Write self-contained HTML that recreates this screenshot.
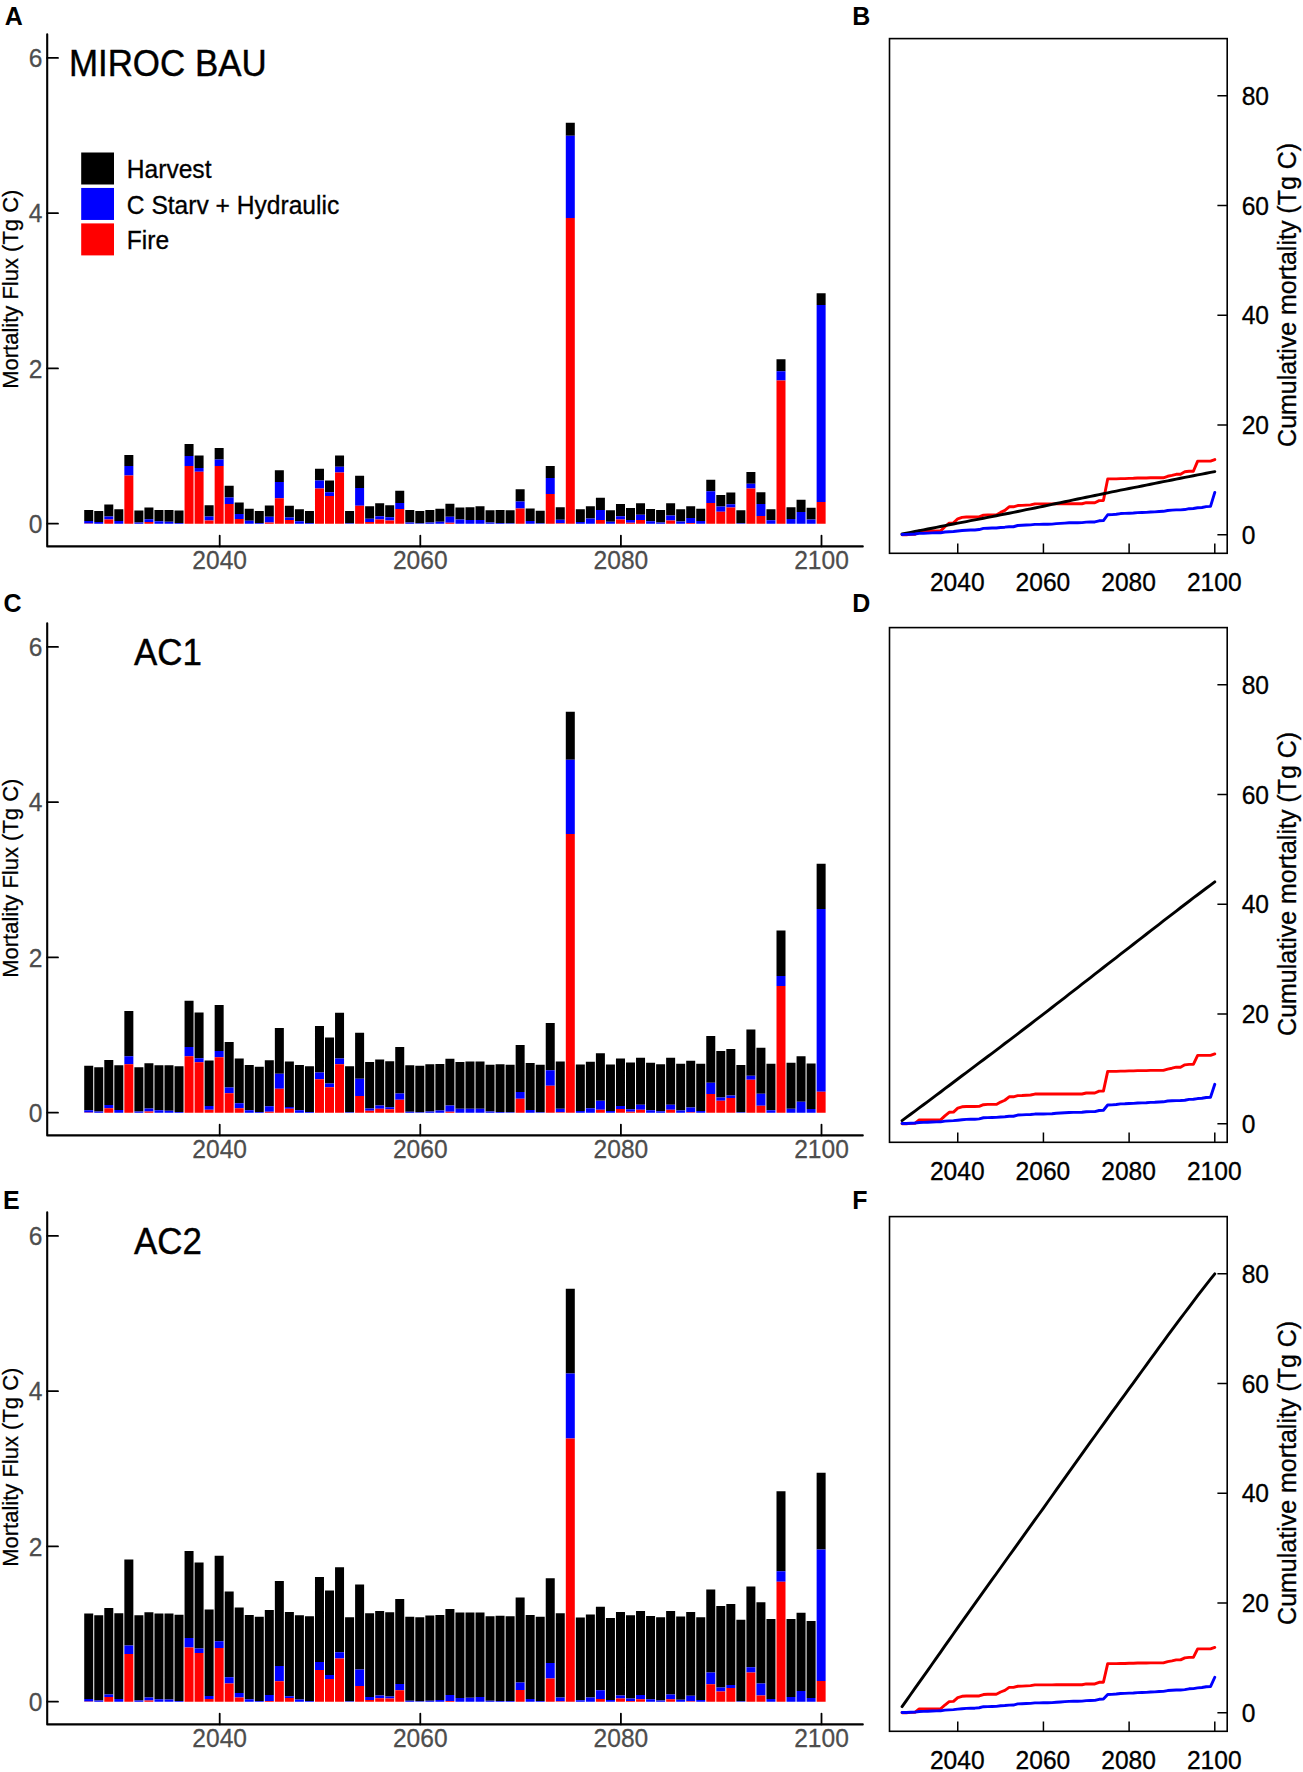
<!DOCTYPE html>
<html lang="en"><head><meta charset="utf-8"><title>Mortality flux and cumulative mortality</title>
<style>html,body{margin:0;padding:0;background:#fff}svg{display:block}</style></head>
<body>
<svg width="1303" height="1772" viewBox="0 0 1303 1772" font-family='"Liberation Sans", Arial, Helvetica, sans-serif'>
<rect width="1303" height="1772" fill="#fff"/>
<g transform="translate(0,0)">
<path fill="#000" d="M84.22 510.01h9.0V521.02h-9.0zM94.25 511.1h9.0V522.12h-9.0zM104.29 504.56h9.0V516.5h-9.0zM114.32 509.23h9.0V521.06h-9.0zM124.35 455.09h9.0V466h-9.0zM134.39 510.62h9.0V522.56h-9.0zM144.42 507.53h9.0V519.26h-9.0zM154.45 510.02h9.0V521.24h-9.0zM164.49 509.95h9.0V521.68h-9.0zM174.52 510.55h9.0V523h-9.0zM184.55 444.06h9.0V456.1h-9.0zM194.58 455.57h9.0V468.02h-9.0zM204.62 505.22h9.0V516.44h-9.0zM214.65 447.98h9.0V459.4h-9.0zM224.68 485.86h9.0V497.39h-9.0zM234.72 502.43h9.0V514.06h-9.0zM244.75 508.86h9.0V520.8h-9.0zM254.78 510.96h9.0V523h-9.0zM264.81 505.46h9.0V516.68h-9.0zM274.85 470.27h9.0V482h-9.0zM284.88 505.81h9.0V517.44h-9.0zM294.91 509.2h9.0V521.24h-9.0zM304.95 510.96h9.0V523h-9.0zM314.98 468.77h9.0V480.5h-9.0zM325.01 480.47h9.0V492.3h-9.0zM335.05 455.46h9.0V466.78h-9.0zM345.08 510.92h9.0V523.26h-9.0zM355.11 475.76h9.0V488h-9.0zM365.14 506.27h9.0V518.82h-9.0zM375.18 503.26h9.0V516.32h-9.0zM385.21 505.28h9.0V517.32h-9.0zM395.24 490.78h9.0V502.92h-9.0zM405.28 510.01h9.0V522.56h-9.0zM415.31 510.92h9.0V523.26h-9.0zM425.34 510.01h9.0V522.56h-9.0zM435.38 508.72h9.0V521.68h-9.0zM445.41 503.66h9.0V516.72h-9.0zM455.44 507.44h9.0V519.48h-9.0zM465.48 507.37h9.0V519.92h-9.0zM475.51 506.35h9.0V519.92h-9.0zM485.54 510.32h9.0V522.56h-9.0zM495.57 509.94h9.0V523h-9.0zM505.61 510.22h9.0V523.17h-9.0zM515.64 489.21h9.0V501.45h-9.0zM525.67 508.51h9.0V521.06h-9.0zM535.71 510.73h9.0V523.17h-9.0zM545.74 465.96h9.0V478h-9.0zM555.77 507.31h9.0V519.86h-9.0zM565.8 122.75h9.0V135.7h-9.0zM575.84 509.37h9.0V522.12h-9.0zM585.87 506.18h9.0V518.42h-9.0zM595.9 497.76h9.0V510.1h-9.0zM605.94 510.15h9.0V521.68h-9.0zM615.97 504.11h9.0V516.14h-9.0zM626 508.02h9.0V520.06h-9.0zM636.04 503.22h9.0V514.64h-9.0zM646.07 509h9.0V521.24h-9.0zM656.1 510.01h9.0V522.56h-9.0zM666.13 503.14h9.0V515.38h-9.0zM676.17 509.17h9.0V521.41h-9.0zM686.2 506.15h9.0V518.08h-9.0zM696.23 508.82h9.0V521.06h-9.0zM706.27 479.77h9.0V491.3h-9.0zM716.3 494.97h9.0V506.6h-9.0zM726.33 492.39h9.0V504.32h-9.0zM736.37 510.2h9.0V523.26h-9.0zM746.4 471.9h9.0V483.84h-9.0zM756.43 492.27h9.0V503.9h-9.0zM766.46 509.14h9.0V520.36h-9.0zM776.5 359.27h9.0V371.2h-9.0zM786.53 507.31h9.0V519.04h-9.0zM796.56 499.76h9.0V511.9h-9.0zM806.6 507.75h9.0V519.48h-9.0zM816.63 293.17h9.0V304.9h-9.0z"/>
<path fill="#0000ff" d="M84.22 521.02h9.0V523.4h-9.0zM94.25 522.12h9.0V523.7h-9.0zM104.29 516.5h9.0V519.4h-9.0zM114.32 521.06h9.0V523.7h-9.0zM124.35 466h9.0V475.5h-9.0zM134.39 522.56h9.0V523.7h-9.0zM144.42 519.26h9.0V521.9h-9.0zM154.45 521.24h9.0V523.7h-9.0zM164.49 521.68h9.0V523.7h-9.0zM174.52 523h9.0V523.7h-9.0zM184.55 456.1h9.0V466h-9.0zM194.58 468.02h9.0V471.8h-9.0zM204.62 516.44h9.0V520.4h-9.0zM214.65 459.4h9.0V466h-9.0zM224.68 497.39h9.0V503.9h-9.0zM234.72 514.06h9.0V518.9h-9.0zM244.75 520.8h9.0V523.7h-9.0zM254.78 523h9.0V523.7h-9.0zM264.81 516.68h9.0V522.4h-9.0zM274.85 482h9.0V498.2h-9.0zM284.88 517.44h9.0V519.9h-9.0zM294.91 521.24h9.0V523.7h-9.0zM304.95 523h9.0V523.7h-9.0zM314.98 480.5h9.0V488.5h-9.0zM325.01 492.3h9.0V496h-9.0zM335.05 466.78h9.0V472.5h-9.0zM345.08 523.26h9.0V523.7h-9.0zM355.11 488h9.0V505.7h-9.0zM365.14 518.82h9.0V521.9h-9.0zM375.18 516.32h9.0V519.4h-9.0zM385.21 517.32h9.0V520.4h-9.0zM395.24 502.92h9.0V508.9h-9.0zM405.28 522.56h9.0V523.7h-9.0zM415.31 523.26h9.0V523.7h-9.0zM425.34 522.56h9.0V523.7h-9.0zM435.38 521.68h9.0V523.7h-9.0zM445.41 516.72h9.0V522.7h-9.0zM455.44 519.48h9.0V523.7h-9.0zM465.48 519.92h9.0V523.7h-9.0zM475.51 519.92h9.0V523.7h-9.0zM485.54 522.56h9.0V523.7h-9.0zM495.57 523h9.0V523.7h-9.0zM505.61 523.17h9.0V523.7h-9.0zM515.64 501.45h9.0V508.4h-9.0zM525.67 521.06h9.0V523.7h-9.0zM535.71 523.17h9.0V523.7h-9.0zM545.74 478h9.0V494h-9.0zM555.77 519.86h9.0V523.2h-9.0zM565.8 135.7h9.0V217.9h-9.0zM575.84 522.12h9.0V523.7h-9.0zM585.87 518.42h9.0V523.7h-9.0zM595.9 510.1h9.0V520.1h-9.0zM605.94 521.68h9.0V523.7h-9.0zM615.97 516.14h9.0V519.4h-9.0zM626 520.06h9.0V522.7h-9.0zM636.04 514.64h9.0V520.1h-9.0zM646.07 521.24h9.0V523.7h-9.0zM656.1 522.56h9.0V523.7h-9.0zM666.13 515.38h9.0V520.4h-9.0zM676.17 521.41h9.0V523.7h-9.0zM686.2 518.08h9.0V523.1h-9.0zM696.23 521.06h9.0V523.7h-9.0zM706.27 491.3h9.0V502.9h-9.0zM716.3 506.6h9.0V511.7h-9.0zM726.33 504.32h9.0V507.4h-9.0zM736.37 523.26h9.0V523.7h-9.0zM746.4 483.84h9.0V488.5h-9.0zM756.43 503.9h9.0V516.1h-9.0zM766.46 520.36h9.0V523.7h-9.0zM776.5 371.2h9.0V380.4h-9.0zM786.53 519.04h9.0V523.7h-9.0zM796.56 511.9h9.0V523.7h-9.0zM806.6 519.48h9.0V523.7h-9.0zM816.63 304.9h9.0V502h-9.0z"/>
<path fill="#ff0000" d="M84.22 523.4h9.0V523.7h-9.0zM104.29 519.4h9.0V523.7h-9.0zM124.35 475.5h9.0V523.7h-9.0zM144.42 521.9h9.0V523.7h-9.0zM184.55 466h9.0V523.7h-9.0zM194.58 471.8h9.0V523.7h-9.0zM204.62 520.4h9.0V523.7h-9.0zM214.65 466h9.0V523.7h-9.0zM224.68 503.9h9.0V523.7h-9.0zM234.72 518.9h9.0V523.7h-9.0zM264.81 522.4h9.0V523.7h-9.0zM274.85 498.2h9.0V523.7h-9.0zM284.88 519.9h9.0V523.7h-9.0zM314.98 488.5h9.0V523.7h-9.0zM325.01 496h9.0V523.7h-9.0zM335.05 472.5h9.0V523.7h-9.0zM355.11 505.7h9.0V523.7h-9.0zM365.14 521.9h9.0V523.7h-9.0zM375.18 519.4h9.0V523.7h-9.0zM385.21 520.4h9.0V523.7h-9.0zM395.24 508.9h9.0V523.7h-9.0zM445.41 522.7h9.0V523.7h-9.0zM515.64 508.4h9.0V523.7h-9.0zM545.74 494h9.0V523.7h-9.0zM555.77 523.2h9.0V523.7h-9.0zM565.8 217.9h9.0V523.7h-9.0zM595.9 520.1h9.0V523.7h-9.0zM615.97 519.4h9.0V523.7h-9.0zM626 522.7h9.0V523.7h-9.0zM636.04 520.1h9.0V523.7h-9.0zM666.13 520.4h9.0V523.7h-9.0zM686.2 523.1h9.0V523.7h-9.0zM706.27 502.9h9.0V523.7h-9.0zM716.3 511.7h9.0V523.7h-9.0zM726.33 507.4h9.0V523.7h-9.0zM746.4 488.5h9.0V523.7h-9.0zM756.43 516.1h9.0V523.7h-9.0zM776.5 380.4h9.0V523.7h-9.0zM816.63 502h9.0V523.7h-9.0z"/>
<path d="M47.2 34.3V546.4H862.8" fill="none" stroke="#000" stroke-width="2.1" stroke-linejoin="round" stroke-linecap="round"/>
<path d="M47.2 523.7h10.8M47.2 368.44h10.8M47.2 213.18h10.8M47.2 57.92h10.8M219.7 546.4v-10.8M420.3 546.4v-10.8M620.9 546.4v-10.8M821.5 546.4v-10.8" fill="none" stroke="#000" stroke-width="1.8" stroke-linecap="round"/>
<text transform="translate(42.5,532.9) scale(1,1.045)" font-size="24.6" fill="#4d4d4d" text-anchor="end" stroke="#4d4d4d" stroke-width="0.25">0</text>
<text transform="translate(42.5,377.64) scale(1,1.045)" font-size="24.6" fill="#4d4d4d" text-anchor="end" stroke="#4d4d4d" stroke-width="0.25">2</text>
<text transform="translate(42.5,222.38) scale(1,1.045)" font-size="24.6" fill="#4d4d4d" text-anchor="end" stroke="#4d4d4d" stroke-width="0.25">4</text>
<text transform="translate(42.5,67.12) scale(1,1.045)" font-size="24.6" fill="#4d4d4d" text-anchor="end" stroke="#4d4d4d" stroke-width="0.25">6</text>
<text transform="translate(219.7,569.4) scale(1,1.045)" font-size="24.6" fill="#4d4d4d" text-anchor="middle" stroke="#4d4d4d" stroke-width="0.25">2040</text>
<text transform="translate(420.3,569.4) scale(1,1.045)" font-size="24.6" fill="#4d4d4d" text-anchor="middle" stroke="#4d4d4d" stroke-width="0.25">2060</text>
<text transform="translate(620.9,569.4) scale(1,1.045)" font-size="24.6" fill="#4d4d4d" text-anchor="middle" stroke="#4d4d4d" stroke-width="0.25">2080</text>
<text transform="translate(821.5,569.4) scale(1,1.045)" font-size="24.6" fill="#4d4d4d" text-anchor="middle" stroke="#4d4d4d" stroke-width="0.25">2100</text>
<text transform="translate(18.4,289.2) rotate(-90) scale(1,1.045)" font-size="22" fill="#000" text-anchor="middle" stroke="#000" stroke-width="0.25">Mortality Flux (Tg C)</text>
<text transform="translate(68.9,75.6) scale(1,1.045)" font-size="34.9" fill="#000" stroke="#000" stroke-width="0.4">MIROC BAU</text>
<rect x="81.2" y="152.5" width="32.8" height="32" fill="#000"/>
<text transform="translate(126.8,178.4) scale(1,1.045)" font-size="24.6" fill="#000" stroke="#000" stroke-width="0.3">Harvest</text>
<rect x="81.2" y="187.95" width="32.8" height="32" fill="#0000ff"/>
<text transform="translate(126.8,213.7) scale(1,1.045)" font-size="24.6" fill="#000" stroke="#000" stroke-width="0.3">C Starv + Hydraulic</text>
<rect x="81.2" y="223.4" width="32.8" height="32" fill="#ff0000"/>
<text transform="translate(126.8,249) scale(1,1.045)" font-size="24.6" fill="#000" stroke="#000" stroke-width="0.3">Fire</text>
</g>
<g transform="translate(0,0)">
<polyline points="902.06,534.68 906.34,534.68 910.63,534.37 914.91,534.37 919.19,530.97 923.48,530.97 927.76,530.84 932.05,530.84 936.33,530.84 940.61,530.84 944.9,526.76 949.18,523.09 953.47,522.86 957.75,518.78 962.03,517.38 966.32,517.04 970.6,517.04 974.89,517.04 979.17,516.95 983.45,515.15 987.74,514.88 992.02,514.88 996.31,514.88 1000.59,512.39 1004.87,510.43 1009.16,506.81 1013.44,506.81 1017.73,505.54 1022.01,505.41 1026.29,505.11 1030.58,504.87 1034.86,503.83 1039.15,503.83 1043.43,503.83 1047.71,503.83 1052,503.83 1056.28,503.76 1060.57,503.76 1064.85,503.76 1069.13,503.76 1073.42,503.76 1077.7,503.76 1081.99,503.76 1086.27,502.68 1090.55,502.68 1094.84,502.68 1099.12,500.58 1103.41,500.54 1107.69,478.92 1111.97,478.92 1116.26,478.92 1120.54,478.67 1124.83,478.67 1129.11,478.36 1133.39,478.29 1137.68,478.04 1141.96,478.04 1146.25,478.04 1150.53,477.81 1154.81,477.81 1159.1,477.76 1163.38,477.76 1167.67,476.29 1171.95,475.44 1176.23,474.29 1180.52,474.29 1184.8,471.8 1189.09,471.27 1193.37,471.27 1197.65,461.14 1201.94,461.14 1206.22,461.14 1210.51,461.14 1214.79,459.6" fill="none" stroke="#ff0000" stroke-width="2.9" stroke-linejoin="round" stroke-linecap="round"/>
<polyline points="902.06,533.92 906.34,533.14 910.63,532.3 914.91,531.46 919.19,530.69 923.48,529.85 927.76,529.02 932.05,528.22 936.33,527.4 940.61,526.52 944.9,525.66 949.18,524.79 953.47,523.99 957.75,523.18 962.03,522.37 966.32,521.55 970.6,520.7 974.89,519.85 979.17,519.06 983.45,518.23 987.74,517.41 992.02,516.56 996.31,515.71 1000.59,514.88 1004.87,514.04 1009.16,513.24 1013.44,512.37 1017.73,511.5 1022.01,510.62 1026.29,509.69 1030.58,508.84 1034.86,507.98 1039.15,507.1 1043.43,506.22 1047.71,505.34 1052,504.42 1056.28,503.5 1060.57,502.65 1064.85,501.76 1069.13,500.8 1073.42,499.94 1077.7,499.01 1081.99,498.1 1086.27,497.23 1090.55,496.35 1094.84,495.47 1099.12,494.62 1103.41,493.73 1107.69,492.81 1111.97,491.91 1116.26,491.05 1120.54,490.17 1124.83,489.36 1129.11,488.51 1133.39,487.66 1137.68,486.85 1141.96,485.98 1146.25,485.1 1150.53,484.23 1154.81,483.37 1159.1,482.52 1163.38,481.66 1167.67,480.84 1171.95,480.02 1176.23,479.18 1180.52,478.25 1184.8,477.41 1189.09,476.59 1193.37,475.79 1197.65,474.95 1201.94,474.12 1206.22,473.26 1210.51,472.43 1214.79,471.61" fill="none" stroke="#000" stroke-width="2.9" stroke-linejoin="round" stroke-linecap="round"/>
<polyline points="902.06,534.53 906.34,534.42 910.63,534.21 914.91,534.03 919.19,533.36 923.48,533.28 927.76,533.09 932.05,532.91 936.33,532.77 940.61,532.72 944.9,532.02 949.18,531.75 953.47,531.47 957.75,531.01 962.03,530.55 966.32,530.21 970.6,530 974.89,529.95 979.17,529.55 983.45,528.4 987.74,528.23 992.02,528.05 996.31,528 1000.59,527.44 1004.87,527.18 1009.16,526.77 1013.44,526.74 1017.73,525.49 1022.01,525.27 1026.29,525.05 1030.58,524.84 1034.86,524.41 1039.15,524.33 1043.43,524.3 1047.71,524.22 1052,524.08 1056.28,523.65 1060.57,523.36 1064.85,523.09 1069.13,522.82 1073.42,522.74 1077.7,522.69 1081.99,522.65 1086.27,522.16 1090.55,521.97 1094.84,521.94 1099.12,520.81 1103.41,520.57 1107.69,514.76 1111.97,514.65 1116.26,514.27 1120.54,513.57 1124.83,513.42 1129.11,513.19 1133.39,513.01 1137.68,512.62 1141.96,512.45 1146.25,512.37 1150.53,512.01 1154.81,511.85 1159.1,511.49 1163.38,511.31 1167.67,510.49 1171.95,510.13 1176.23,509.91 1180.52,509.88 1184.8,509.55 1189.09,508.69 1193.37,508.45 1197.65,507.8 1201.94,507.47 1206.22,506.64 1210.51,506.34 1214.79,492.4" fill="none" stroke="#0000ff" stroke-width="2.9" stroke-linejoin="round" stroke-linecap="round"/>
<rect x="889.5" y="38.6" width="337.7" height="514.7" fill="none" stroke="#000" stroke-width="1.6"/>
<path d="M1227.2 534.7h-9.8M1227.2 424.94h-9.8M1227.2 315.18h-9.8M1227.2 205.42h-9.8M1227.2 95.66h-9.8M957.75 553.3v-9.8M1043.43 553.3v-9.8M1129.11 553.3v-9.8M1214.79 553.3v-9.8" fill="none" stroke="#000" stroke-width="1.5"/>
<text transform="translate(1241.7,543.9) scale(1,1.045)" font-size="24.6" fill="#000" stroke="#000" stroke-width="0.3">0</text>
<text transform="translate(1241.7,434.14) scale(1,1.045)" font-size="24.6" fill="#000" stroke="#000" stroke-width="0.3">20</text>
<text transform="translate(1241.7,324.38) scale(1,1.045)" font-size="24.6" fill="#000" stroke="#000" stroke-width="0.3">40</text>
<text transform="translate(1241.7,214.62) scale(1,1.045)" font-size="24.6" fill="#000" stroke="#000" stroke-width="0.3">60</text>
<text transform="translate(1241.7,104.86) scale(1,1.045)" font-size="24.6" fill="#000" stroke="#000" stroke-width="0.3">80</text>
<text transform="translate(957.25,591.3) scale(1,1.045)" font-size="24.6" fill="#000" text-anchor="middle" stroke="#000" stroke-width="0.3">2040</text>
<text transform="translate(1042.93,591.3) scale(1,1.045)" font-size="24.6" fill="#000" text-anchor="middle" stroke="#000" stroke-width="0.3">2060</text>
<text transform="translate(1128.61,591.3) scale(1,1.045)" font-size="24.6" fill="#000" text-anchor="middle" stroke="#000" stroke-width="0.3">2080</text>
<text transform="translate(1214.29,591.3) scale(1,1.045)" font-size="24.6" fill="#000" text-anchor="middle" stroke="#000" stroke-width="0.3">2100</text>
<text transform="translate(1295.8,294.9) rotate(-90) scale(1,1.045)" font-size="25" fill="#000" text-anchor="middle" stroke="#000" stroke-width="0.3">Cumulative mortality (Tg C)</text>
</g>
<g transform="translate(0,589)">
<path fill="#000" d="M84.22 476.87h9.0V521.15h-9.0zM94.25 478.35h9.0V522.53h-9.0zM104.29 470.98h9.0V516.06h-9.0zM114.32 476.32h9.0V521h-9.0zM124.35 422.12h9.0V467.2h-9.0zM134.39 478.15h9.0V522.53h-9.0zM144.42 474.35h9.0V519.43h-9.0zM154.45 476.28h9.0V521.36h-9.0zM164.49 476.25h9.0V521.63h-9.0zM174.52 477.3h9.0V522.98h-9.0zM184.55 411.82h9.0V457.9h-9.0zM194.58 423.56h9.0V469.24h-9.0zM204.62 471.62h9.0V517.1h-9.0zM214.65 415.9h9.0V462.08h-9.0zM224.68 452.97h9.0V498.45h-9.0zM234.72 469.58h9.0V514.26h-9.0zM244.75 475.88h9.0V521.36h-9.0zM254.78 477.7h9.0V522.98h-9.0zM264.81 471.22h9.0V517.3h-9.0zM274.85 439.12h9.0V484.8h-9.0zM284.88 472.42h9.0V517.9h-9.0zM294.91 475.88h9.0V521.36h-9.0zM304.95 477.3h9.0V522.98h-9.0zM314.98 437.05h9.0V483.54h-9.0zM325.01 448.52h9.0V494.6h-9.0zM335.05 423.76h9.0V469.44h-9.0zM345.08 477.27h9.0V523.25h-9.0zM355.11 443.72h9.0V489.8h-9.0zM365.14 473.05h9.0V519.54h-9.0zM375.18 470.38h9.0V516.46h-9.0zM385.21 472.24h9.0V518.32h-9.0zM395.24 458.02h9.0V504.4h-9.0zM405.28 476.31h9.0V522.8h-9.0zM415.31 476.87h9.0V523.25h-9.0zM425.34 475.33h9.0V522.62h-9.0zM435.38 475.05h9.0V521.54h-9.0zM445.41 469.71h9.0V516.4h-9.0zM455.44 473.05h9.0V519.74h-9.0zM465.48 472.45h9.0V519.74h-9.0zM475.51 472.45h9.0V519.74h-9.0zM485.54 475.73h9.0V522.62h-9.0zM495.57 475.29h9.0V522.98h-9.0zM505.61 475.67h9.0V523.16h-9.0zM515.64 456.06h9.0V502.95h-9.0zM525.67 473.91h9.0V521h-9.0zM535.71 475.67h9.0V523.16h-9.0zM545.74 434.11h9.0V481.2h-9.0zM555.77 472.4h9.0V519.69h-9.0zM565.8 122.81h9.0V170.7h-9.0zM575.84 475.41h9.0V521.9h-9.0zM585.87 472.71h9.0V519.2h-9.0zM595.9 464.21h9.0V511.7h-9.0zM605.94 475.41h9.0V521.9h-9.0zM615.97 469.55h9.0V517.04h-9.0zM626 473.47h9.0V520.36h-9.0zM636.04 468.75h9.0V515.84h-9.0zM646.07 473.87h9.0V521.36h-9.0zM656.1 475.37h9.0V522.26h-9.0zM666.13 468.77h9.0V515.66h-9.0zM676.17 474.85h9.0V521.54h-9.0zM686.2 471.72h9.0V518.61h-9.0zM696.23 474.81h9.0V521.9h-9.0zM706.27 447.11h9.0V493.8h-9.0zM716.3 461.97h9.0V508.46h-9.0zM726.33 460.02h9.0V506.4h-9.0zM736.37 476.06h9.0V523.25h-9.0zM746.4 440.58h9.0V486.66h-9.0zM756.43 458.72h9.0V504.7h-9.0zM766.46 474.87h9.0V521.36h-9.0zM776.5 341.62h9.0V387.1h-9.0zM786.53 473.66h9.0V519.74h-9.0zM796.56 467.22h9.0V512.7h-9.0zM806.6 474.42h9.0V520.1h-9.0zM816.63 274.82h9.0V319.9h-9.0z"/>
<path fill="#0000ff" d="M84.22 521.15h9.0V523.4h-9.0zM94.25 522.53h9.0V523.7h-9.0zM104.29 516.06h9.0V519.3h-9.0zM114.32 521h9.0V523.7h-9.0zM124.35 467.2h9.0V475.2h-9.0zM134.39 522.53h9.0V523.7h-9.0zM144.42 519.43h9.0V522.4h-9.0zM154.45 521.36h9.0V523.7h-9.0zM164.49 521.63h9.0V523.7h-9.0zM174.52 522.98h9.0V523.7h-9.0zM184.55 457.9h9.0V467.2h-9.0zM194.58 469.24h9.0V473.2h-9.0zM204.62 517.1h9.0V520.7h-9.0zM214.65 462.08h9.0V468.2h-9.0zM224.68 498.45h9.0V504.3h-9.0zM234.72 514.26h9.0V519.3h-9.0zM244.75 521.36h9.0V523.7h-9.0zM254.78 522.98h9.0V523.7h-9.0zM264.81 517.3h9.0V522.7h-9.0zM274.85 484.8h9.0V499.8h-9.0zM284.88 517.9h9.0V519.7h-9.0zM294.91 521.36h9.0V523.7h-9.0zM304.95 522.98h9.0V523.7h-9.0zM314.98 483.54h9.0V490.2h-9.0zM325.01 494.6h9.0V498.2h-9.0zM335.05 469.44h9.0V475.2h-9.0zM345.08 523.25h9.0V523.7h-9.0zM355.11 489.8h9.0V507.1h-9.0zM365.14 519.54h9.0V521.7h-9.0zM375.18 516.46h9.0V519.7h-9.0zM385.21 518.32h9.0V520.3h-9.0zM395.24 504.4h9.0V510.7h-9.0zM405.28 522.8h9.0V523.7h-9.0zM415.31 523.25h9.0V523.7h-9.0zM425.34 522.62h9.0V523.7h-9.0zM435.38 521.54h9.0V523.7h-9.0zM445.41 516.4h9.0V522.7h-9.0zM455.44 519.74h9.0V523.7h-9.0zM465.48 519.74h9.0V523.7h-9.0zM475.51 519.74h9.0V523.7h-9.0zM485.54 522.62h9.0V523.7h-9.0zM495.57 522.98h9.0V523.7h-9.0zM505.61 523.16h9.0V523.7h-9.0zM515.64 502.95h9.0V509.7h-9.0zM525.67 521h9.0V523.7h-9.0zM535.71 523.16h9.0V523.7h-9.0zM545.74 481.2h9.0V496.8h-9.0zM555.77 519.69h9.0V523.2h-9.0zM565.8 170.7h9.0V245.1h-9.0zM575.84 521.9h9.0V523.7h-9.0zM585.87 519.2h9.0V523.7h-9.0zM595.9 511.7h9.0V520.7h-9.0zM605.94 521.9h9.0V523.7h-9.0zM615.97 517.04h9.0V520.1h-9.0zM626 520.36h9.0V522.7h-9.0zM636.04 515.84h9.0V520.7h-9.0zM646.07 521.36h9.0V523.7h-9.0zM656.1 522.26h9.0V523.7h-9.0zM666.13 515.66h9.0V520.7h-9.0zM676.17 521.54h9.0V523.7h-9.0zM686.2 518.61h9.0V523.2h-9.0zM696.23 521.9h9.0V523.7h-9.0zM706.27 493.8h9.0V505.1h-9.0zM716.3 508.46h9.0V511.7h-9.0zM726.33 506.4h9.0V509.1h-9.0zM736.37 523.25h9.0V523.7h-9.0zM746.4 486.66h9.0V490.8h-9.0zM756.43 504.7h9.0V516.7h-9.0zM766.46 521.36h9.0V523.7h-9.0zM776.5 387.1h9.0V397h-9.0zM786.53 519.74h9.0V523.7h-9.0zM796.56 512.7h9.0V523.7h-9.0zM806.6 520.1h9.0V523.7h-9.0zM816.63 319.9h9.0V502.7h-9.0z"/>
<path fill="#ff0000" d="M84.22 523.4h9.0V523.7h-9.0zM104.29 519.3h9.0V523.7h-9.0zM124.35 475.2h9.0V523.7h-9.0zM144.42 522.4h9.0V523.7h-9.0zM184.55 467.2h9.0V523.7h-9.0zM194.58 473.2h9.0V523.7h-9.0zM204.62 520.7h9.0V523.7h-9.0zM214.65 468.2h9.0V523.7h-9.0zM224.68 504.3h9.0V523.7h-9.0zM234.72 519.3h9.0V523.7h-9.0zM264.81 522.7h9.0V523.7h-9.0zM274.85 499.8h9.0V523.7h-9.0zM284.88 519.7h9.0V523.7h-9.0zM314.98 490.2h9.0V523.7h-9.0zM325.01 498.2h9.0V523.7h-9.0zM335.05 475.2h9.0V523.7h-9.0zM355.11 507.1h9.0V523.7h-9.0zM365.14 521.7h9.0V523.7h-9.0zM375.18 519.7h9.0V523.7h-9.0zM385.21 520.3h9.0V523.7h-9.0zM395.24 510.7h9.0V523.7h-9.0zM445.41 522.7h9.0V523.7h-9.0zM515.64 509.7h9.0V523.7h-9.0zM545.74 496.8h9.0V523.7h-9.0zM555.77 523.2h9.0V523.7h-9.0zM565.8 245.1h9.0V523.7h-9.0zM595.9 520.7h9.0V523.7h-9.0zM615.97 520.1h9.0V523.7h-9.0zM626 522.7h9.0V523.7h-9.0zM636.04 520.7h9.0V523.7h-9.0zM666.13 520.7h9.0V523.7h-9.0zM686.2 523.2h9.0V523.7h-9.0zM706.27 505.1h9.0V523.7h-9.0zM716.3 511.7h9.0V523.7h-9.0zM726.33 509.1h9.0V523.7h-9.0zM746.4 490.8h9.0V523.7h-9.0zM756.43 516.7h9.0V523.7h-9.0zM776.5 397h9.0V523.7h-9.0zM816.63 502.7h9.0V523.7h-9.0z"/>
<path d="M47.2 34.3V546.4H862.8" fill="none" stroke="#000" stroke-width="2.1" stroke-linejoin="round" stroke-linecap="round"/>
<path d="M47.2 523.7h10.8M47.2 368.44h10.8M47.2 213.18h10.8M47.2 57.92h10.8M219.7 546.4v-10.8M420.3 546.4v-10.8M620.9 546.4v-10.8M821.5 546.4v-10.8" fill="none" stroke="#000" stroke-width="1.8" stroke-linecap="round"/>
<text transform="translate(42.5,532.9) scale(1,1.045)" font-size="24.6" fill="#4d4d4d" text-anchor="end" stroke="#4d4d4d" stroke-width="0.25">0</text>
<text transform="translate(42.5,377.64) scale(1,1.045)" font-size="24.6" fill="#4d4d4d" text-anchor="end" stroke="#4d4d4d" stroke-width="0.25">2</text>
<text transform="translate(42.5,222.38) scale(1,1.045)" font-size="24.6" fill="#4d4d4d" text-anchor="end" stroke="#4d4d4d" stroke-width="0.25">4</text>
<text transform="translate(42.5,67.12) scale(1,1.045)" font-size="24.6" fill="#4d4d4d" text-anchor="end" stroke="#4d4d4d" stroke-width="0.25">6</text>
<text transform="translate(219.7,569.4) scale(1,1.045)" font-size="24.6" fill="#4d4d4d" text-anchor="middle" stroke="#4d4d4d" stroke-width="0.25">2040</text>
<text transform="translate(420.3,569.4) scale(1,1.045)" font-size="24.6" fill="#4d4d4d" text-anchor="middle" stroke="#4d4d4d" stroke-width="0.25">2060</text>
<text transform="translate(620.9,569.4) scale(1,1.045)" font-size="24.6" fill="#4d4d4d" text-anchor="middle" stroke="#4d4d4d" stroke-width="0.25">2080</text>
<text transform="translate(821.5,569.4) scale(1,1.045)" font-size="24.6" fill="#4d4d4d" text-anchor="middle" stroke="#4d4d4d" stroke-width="0.25">2100</text>
<text transform="translate(18.4,289.2) rotate(-90) scale(1,1.045)" font-size="22" fill="#000" text-anchor="middle" stroke="#000" stroke-width="0.25">Mortality Flux (Tg C)</text>
<text transform="translate(134,75.6) scale(1,1.045)" font-size="34.9" fill="#000" stroke="#000" stroke-width="0.4">AC1</text>
</g>
<g transform="translate(0,589)">
<polyline points="902.06,534.68 906.34,534.68 910.63,534.37 914.91,534.37 919.19,530.94 923.48,530.94 927.76,530.85 932.05,530.85 936.33,530.85 940.61,530.85 944.9,526.85 949.18,523.28 953.47,523.07 957.75,519.15 962.03,517.78 966.32,517.46 970.6,517.46 974.89,517.46 979.17,517.39 983.45,515.7 987.74,515.42 992.02,515.42 996.31,515.42 1000.59,513.05 1004.87,511.25 1009.16,507.82 1013.44,507.82 1017.73,506.65 1022.01,506.51 1026.29,506.22 1030.58,505.98 1034.86,505.06 1039.15,505.06 1043.43,505.06 1047.71,505.06 1052,505.06 1056.28,504.99 1060.57,504.99 1064.85,504.99 1069.13,504.99 1073.42,504.99 1077.7,504.99 1081.99,504.99 1086.27,504 1090.55,504 1094.84,504 1099.12,502.1 1103.41,502.07 1107.69,482.37 1111.97,482.37 1116.26,482.37 1120.54,482.16 1124.83,482.16 1129.11,481.91 1133.39,481.83 1137.68,481.62 1141.96,481.62 1146.25,481.62 1150.53,481.41 1154.81,481.41 1159.1,481.38 1163.38,481.38 1167.67,480.06 1171.95,479.21 1176.23,478.18 1180.52,478.18 1184.8,475.85 1189.09,475.36 1193.37,475.36 1197.65,466.4 1201.94,466.4 1206.22,466.4 1210.51,466.4 1214.79,464.92" fill="none" stroke="#ff0000" stroke-width="2.9" stroke-linejoin="round" stroke-linecap="round"/>
<polyline points="902.06,531.57 906.34,528.45 910.63,525.26 914.91,522.1 919.19,518.91 923.48,515.78 927.76,512.59 932.05,509.4 936.33,506.2 940.61,502.97 944.9,499.71 949.18,496.48 953.47,493.26 957.75,490 962.03,486.78 966.32,483.62 970.6,480.41 974.89,477.21 979.17,473.95 983.45,470.72 987.74,467.51 992.02,464.29 996.31,461.06 1000.59,457.78 1004.87,454.52 1009.16,451.29 1013.44,448.04 1017.73,444.78 1022.01,441.49 1026.29,438.24 1030.58,434.98 1034.86,431.7 1039.15,428.41 1043.43,425.13 1047.71,421.79 1052,418.5 1056.28,415.2 1060.57,411.9 1064.85,408.56 1069.13,405.22 1073.42,401.9 1077.7,398.53 1081.99,395.17 1086.27,391.86 1090.55,388.53 1094.84,385.17 1099.12,381.84 1103.41,378.5 1107.69,375.12 1111.97,371.83 1116.26,368.54 1120.54,365.19 1124.83,361.9 1129.11,358.54 1133.39,355.23 1137.68,351.9 1141.96,348.54 1146.25,345.23 1150.53,341.91 1154.81,338.61 1159.1,335.3 1163.38,331.97 1167.67,328.67 1171.95,325.38 1176.23,322.1 1180.52,318.77 1184.8,315.51 1189.09,312.26 1193.37,308.97 1197.65,305.76 1201.94,302.5 1206.22,299.28 1210.51,296.05 1214.79,292.87" fill="none" stroke="#000" stroke-width="2.9" stroke-linejoin="round" stroke-linecap="round"/>
<polyline points="902.06,534.54 906.34,534.46 910.63,534.23 914.91,534.04 919.19,533.47 923.48,533.39 927.76,533.18 932.05,533.01 936.33,532.87 940.61,532.82 944.9,532.16 949.18,531.88 953.47,531.63 957.75,531.19 962.03,530.78 966.32,530.42 970.6,530.26 974.89,530.21 979.17,529.82 983.45,528.76 987.74,528.64 992.02,528.47 996.31,528.42 1000.59,527.95 1004.87,527.7 1009.16,527.29 1013.44,527.26 1017.73,526.03 1022.01,525.88 1026.29,525.65 1030.58,525.51 1034.86,525.07 1039.15,525 1043.43,524.97 1047.71,524.89 1052,524.74 1056.28,524.3 1060.57,524.02 1064.85,523.74 1069.13,523.46 1073.42,523.38 1077.7,523.33 1081.99,523.29 1086.27,522.81 1090.55,522.62 1094.84,522.59 1099.12,521.48 1103.41,521.23 1107.69,515.97 1111.97,515.85 1116.26,515.53 1120.54,514.89 1124.83,514.77 1129.11,514.55 1133.39,514.38 1137.68,514.04 1141.96,513.87 1146.25,513.77 1150.53,513.42 1154.81,513.26 1159.1,512.94 1163.38,512.81 1167.67,512.01 1171.95,511.78 1176.23,511.59 1180.52,511.56 1184.8,511.27 1189.09,510.42 1193.37,510.26 1197.65,509.56 1201.94,509.28 1206.22,508.5 1210.51,508.24 1214.79,495.32" fill="none" stroke="#0000ff" stroke-width="2.9" stroke-linejoin="round" stroke-linecap="round"/>
<rect x="889.5" y="38.6" width="337.7" height="514.7" fill="none" stroke="#000" stroke-width="1.6"/>
<path d="M1227.2 534.7h-9.8M1227.2 424.94h-9.8M1227.2 315.18h-9.8M1227.2 205.42h-9.8M1227.2 95.66h-9.8M957.75 553.3v-9.8M1043.43 553.3v-9.8M1129.11 553.3v-9.8M1214.79 553.3v-9.8" fill="none" stroke="#000" stroke-width="1.5"/>
<text transform="translate(1241.7,543.9) scale(1,1.045)" font-size="24.6" fill="#000" stroke="#000" stroke-width="0.3">0</text>
<text transform="translate(1241.7,434.14) scale(1,1.045)" font-size="24.6" fill="#000" stroke="#000" stroke-width="0.3">20</text>
<text transform="translate(1241.7,324.38) scale(1,1.045)" font-size="24.6" fill="#000" stroke="#000" stroke-width="0.3">40</text>
<text transform="translate(1241.7,214.62) scale(1,1.045)" font-size="24.6" fill="#000" stroke="#000" stroke-width="0.3">60</text>
<text transform="translate(1241.7,104.86) scale(1,1.045)" font-size="24.6" fill="#000" stroke="#000" stroke-width="0.3">80</text>
<text transform="translate(957.25,591.3) scale(1,1.045)" font-size="24.6" fill="#000" text-anchor="middle" stroke="#000" stroke-width="0.3">2040</text>
<text transform="translate(1042.93,591.3) scale(1,1.045)" font-size="24.6" fill="#000" text-anchor="middle" stroke="#000" stroke-width="0.3">2060</text>
<text transform="translate(1128.61,591.3) scale(1,1.045)" font-size="24.6" fill="#000" text-anchor="middle" stroke="#000" stroke-width="0.3">2080</text>
<text transform="translate(1214.29,591.3) scale(1,1.045)" font-size="24.6" fill="#000" text-anchor="middle" stroke="#000" stroke-width="0.3">2100</text>
<text transform="translate(1295.8,294.9) rotate(-90) scale(1,1.045)" font-size="25" fill="#000" text-anchor="middle" stroke="#000" stroke-width="0.3">Cumulative mortality (Tg C)</text>
</g>
<g transform="translate(0,1178)">
<path fill="#000" d="M84.22 435.52h9.0V520.98h-9.0zM94.25 437.28h9.0V522.54h-9.0zM104.29 429.92h9.0V516.38h-9.0zM114.32 435.33h9.0V520.98h-9.0zM124.35 381.54h9.0V467.6h-9.0zM134.39 437.28h9.0V522.54h-9.0zM144.42 434.34h9.0V519.59h-9.0zM154.45 435.52h9.0V521.37h-9.0zM164.49 435.51h9.0V521.57h-9.0zM174.52 436.87h9.0V522.92h-9.0zM184.55 373.04h9.0V460.1h-9.0zM194.58 384.48h9.0V470.54h-9.0zM204.62 431.53h9.0V517.99h-9.0zM214.65 377.65h9.0V463.21h-9.0zM224.68 413.54h9.0V499.2h-9.0zM234.72 429.38h9.0V515.04h-9.0zM244.75 436.92h9.0V521.37h-9.0zM254.78 438.87h9.0V522.92h-9.0zM264.81 432.03h9.0V517.08h-9.0zM274.85 402.95h9.0V488h-9.0zM284.88 433.9h9.0V518.35h-9.0zM294.91 437.31h9.0V521.57h-9.0zM304.95 438.27h9.0V522.92h-9.0zM314.98 398.95h9.0V484h-9.0zM325.01 412.47h9.0V497.12h-9.0zM335.05 389.14h9.0V474.19h-9.0zM345.08 439.26h9.0V523.22h-9.0zM355.11 406.55h9.0V491.4h-9.0zM365.14 435.34h9.0V518.99h-9.0zM375.18 432.93h9.0V517.58h-9.0zM385.21 434.31h9.0V518.56h-9.0zM395.24 421.04h9.0V506.09h-9.0zM405.28 438.68h9.0V522.73h-9.0zM415.31 439.26h9.0V523.22h-9.0zM425.34 437.48h9.0V522.73h-9.0zM435.38 437.1h9.0V521.95h-9.0zM445.41 431.02h9.0V517.08h-9.0zM455.44 434.56h9.0V520.01h-9.0zM465.48 434.57h9.0V519.63h-9.0zM475.51 434.39h9.0V519.04h-9.0zM485.54 438.28h9.0V522.73h-9.0zM495.57 437.87h9.0V522.92h-9.0zM505.61 438.26h9.0V523.12h-9.0zM515.64 419.47h9.0V504.53h-9.0zM525.67 436.93h9.0V520.98h-9.0zM535.71 438.67h9.0V523.12h-9.0zM545.74 400.35h9.0V485h-9.0zM555.77 435.36h9.0V519.61h-9.0zM565.8 110.65h9.0V195.4h-9.0zM575.84 439.49h9.0V522.34h-9.0zM585.87 436.38h9.0V519.43h-9.0zM595.9 428.85h9.0V512.3h-9.0zM605.94 439.91h9.0V521.95h-9.0zM615.97 433.94h9.0V517.59h-9.0zM626 437.13h9.0V520.38h-9.0zM636.04 432.98h9.0V517.03h-9.0zM646.07 437.92h9.0V521.37h-9.0zM656.1 439.29h9.0V522.54h-9.0zM666.13 433h9.0V516.45h-9.0zM676.17 438.51h9.0V521.76h-9.0zM686.2 434.02h9.0V517.67h-9.0zM696.23 439.31h9.0V521.95h-9.0zM706.27 411.55h9.0V494.4h-9.0zM716.3 427.98h9.0V509.62h-9.0zM726.33 425.95h9.0V506.99h-9.0zM736.37 441.87h9.0V523.22h-9.0zM746.4 408.52h9.0V489.16h-9.0zM756.43 424.26h9.0V505.5h-9.0zM766.46 440.94h9.0V520.98h-9.0zM776.5 313.26h9.0V393.2h-9.0zM786.53 441.01h9.0V519.04h-9.0zM796.56 434.87h9.0V512.9h-9.0zM806.6 442.98h9.0V520.01h-9.0zM816.63 294.87h9.0V371.6h-9.0z"/>
<path fill="#0000ff" d="M84.22 520.98h9.0V523.4h-9.0zM94.25 522.54h9.0V523.7h-9.0zM104.29 516.38h9.0V518.9h-9.0zM114.32 520.98h9.0V523.7h-9.0zM124.35 467.6h9.0V476h-9.0zM134.39 522.54h9.0V523.7h-9.0zM144.42 519.59h9.0V522.5h-9.0zM154.45 521.37h9.0V523.7h-9.0zM164.49 521.57h9.0V523.7h-9.0zM174.52 522.92h9.0V523.7h-9.0zM184.55 460.1h9.0V469.4h-9.0zM194.58 470.54h9.0V475h-9.0zM204.62 517.99h9.0V520.9h-9.0zM214.65 463.21h9.0V470h-9.0zM224.68 499.2h9.0V505.5h-9.0zM234.72 515.04h9.0V519.5h-9.0zM244.75 521.37h9.0V523.7h-9.0zM254.78 522.92h9.0V523.7h-9.0zM264.81 517.08h9.0V522.9h-9.0zM274.85 488h9.0V503.3h-9.0zM284.88 518.35h9.0V519.9h-9.0zM294.91 521.57h9.0V523.7h-9.0zM304.95 522.92h9.0V523.7h-9.0zM314.98 484h9.0V492h-9.0zM325.01 497.12h9.0V501h-9.0zM335.05 474.19h9.0V480.4h-9.0zM345.08 523.22h9.0V523.7h-9.0zM355.11 491.4h9.0V507.9h-9.0zM365.14 518.99h9.0V521.9h-9.0zM375.18 517.58h9.0V520.3h-9.0zM385.21 518.56h9.0V520.5h-9.0zM395.24 506.09h9.0V512.3h-9.0zM405.28 522.73h9.0V523.7h-9.0zM415.31 523.22h9.0V523.7h-9.0zM425.34 522.73h9.0V523.7h-9.0zM435.38 521.95h9.0V523.7h-9.0zM445.41 517.08h9.0V522.9h-9.0zM455.44 520.01h9.0V523.7h-9.0zM465.48 519.63h9.0V523.7h-9.0zM475.51 519.04h9.0V523.7h-9.0zM485.54 522.73h9.0V523.7h-9.0zM495.57 522.92h9.0V523.7h-9.0zM505.61 523.12h9.0V523.7h-9.0zM515.64 504.53h9.0V511.9h-9.0zM525.67 520.98h9.0V523.7h-9.0zM535.71 523.12h9.0V523.7h-9.0zM545.74 485h9.0V500.6h-9.0zM555.77 519.61h9.0V523.2h-9.0zM565.8 195.4h9.0V260.6h-9.0zM575.84 522.34h9.0V523.7h-9.0zM585.87 519.43h9.0V523.7h-9.0zM595.9 512.3h9.0V520.9h-9.0zM605.94 521.95h9.0V523.7h-9.0zM615.97 517.59h9.0V520.5h-9.0zM626 520.38h9.0V522.9h-9.0zM636.04 517.03h9.0V521.3h-9.0zM646.07 521.37h9.0V523.7h-9.0zM656.1 522.54h9.0V523.7h-9.0zM666.13 516.45h9.0V521.3h-9.0zM676.17 521.76h9.0V523.7h-9.0zM686.2 517.67h9.0V523.3h-9.0zM696.23 521.95h9.0V523.7h-9.0zM706.27 494.4h9.0V506.3h-9.0zM716.3 509.62h9.0V513.5h-9.0zM726.33 506.99h9.0V509.9h-9.0zM736.37 523.22h9.0V523.7h-9.0zM746.4 489.16h9.0V494.4h-9.0zM756.43 505.5h9.0V517.5h-9.0zM766.46 520.98h9.0V523.7h-9.0zM776.5 393.2h9.0V403.8h-9.0zM786.53 519.04h9.0V523.7h-9.0zM796.56 512.9h9.0V523.7h-9.0zM806.6 520.01h9.0V523.7h-9.0zM816.63 371.6h9.0V502.9h-9.0z"/>
<path fill="#ff0000" d="M84.22 523.4h9.0V523.7h-9.0zM104.29 518.9h9.0V523.7h-9.0zM124.35 476h9.0V523.7h-9.0zM144.42 522.5h9.0V523.7h-9.0zM184.55 469.4h9.0V523.7h-9.0zM194.58 475h9.0V523.7h-9.0zM204.62 520.9h9.0V523.7h-9.0zM214.65 470h9.0V523.7h-9.0zM224.68 505.5h9.0V523.7h-9.0zM234.72 519.5h9.0V523.7h-9.0zM264.81 522.9h9.0V523.7h-9.0zM274.85 503.3h9.0V523.7h-9.0zM284.88 519.9h9.0V523.7h-9.0zM314.98 492h9.0V523.7h-9.0zM325.01 501h9.0V523.7h-9.0zM335.05 480.4h9.0V523.7h-9.0zM355.11 507.9h9.0V523.7h-9.0zM365.14 521.9h9.0V523.7h-9.0zM375.18 520.3h9.0V523.7h-9.0zM385.21 520.5h9.0V523.7h-9.0zM395.24 512.3h9.0V523.7h-9.0zM445.41 522.9h9.0V523.7h-9.0zM515.64 511.9h9.0V523.7h-9.0zM545.74 500.6h9.0V523.7h-9.0zM555.77 523.2h9.0V523.7h-9.0zM565.8 260.6h9.0V523.7h-9.0zM595.9 520.9h9.0V523.7h-9.0zM615.97 520.5h9.0V523.7h-9.0zM626 522.9h9.0V523.7h-9.0zM636.04 521.3h9.0V523.7h-9.0zM666.13 521.3h9.0V523.7h-9.0zM686.2 523.3h9.0V523.7h-9.0zM706.27 506.3h9.0V523.7h-9.0zM716.3 513.5h9.0V523.7h-9.0zM726.33 509.9h9.0V523.7h-9.0zM746.4 494.4h9.0V523.7h-9.0zM756.43 517.5h9.0V523.7h-9.0zM776.5 403.8h9.0V523.7h-9.0zM816.63 502.9h9.0V523.7h-9.0z"/>
<path d="M47.2 34.3V546.4H862.8" fill="none" stroke="#000" stroke-width="2.1" stroke-linejoin="round" stroke-linecap="round"/>
<path d="M47.2 523.7h10.8M47.2 368.44h10.8M47.2 213.18h10.8M47.2 57.92h10.8M219.7 546.4v-10.8M420.3 546.4v-10.8M620.9 546.4v-10.8M821.5 546.4v-10.8" fill="none" stroke="#000" stroke-width="1.8" stroke-linecap="round"/>
<text transform="translate(42.5,532.9) scale(1,1.045)" font-size="24.6" fill="#4d4d4d" text-anchor="end" stroke="#4d4d4d" stroke-width="0.25">0</text>
<text transform="translate(42.5,377.64) scale(1,1.045)" font-size="24.6" fill="#4d4d4d" text-anchor="end" stroke="#4d4d4d" stroke-width="0.25">2</text>
<text transform="translate(42.5,222.38) scale(1,1.045)" font-size="24.6" fill="#4d4d4d" text-anchor="end" stroke="#4d4d4d" stroke-width="0.25">4</text>
<text transform="translate(42.5,67.12) scale(1,1.045)" font-size="24.6" fill="#4d4d4d" text-anchor="end" stroke="#4d4d4d" stroke-width="0.25">6</text>
<text transform="translate(219.7,569.4) scale(1,1.045)" font-size="24.6" fill="#4d4d4d" text-anchor="middle" stroke="#4d4d4d" stroke-width="0.25">2040</text>
<text transform="translate(420.3,569.4) scale(1,1.045)" font-size="24.6" fill="#4d4d4d" text-anchor="middle" stroke="#4d4d4d" stroke-width="0.25">2060</text>
<text transform="translate(620.9,569.4) scale(1,1.045)" font-size="24.6" fill="#4d4d4d" text-anchor="middle" stroke="#4d4d4d" stroke-width="0.25">2080</text>
<text transform="translate(821.5,569.4) scale(1,1.045)" font-size="24.6" fill="#4d4d4d" text-anchor="middle" stroke="#4d4d4d" stroke-width="0.25">2100</text>
<text transform="translate(18.4,289.2) rotate(-90) scale(1,1.045)" font-size="22" fill="#000" text-anchor="middle" stroke="#000" stroke-width="0.25">Mortality Flux (Tg C)</text>
<text transform="translate(134,75.6) scale(1,1.045)" font-size="34.9" fill="#000" stroke="#000" stroke-width="0.4">AC2</text>
</g>
<g transform="translate(0,1178)">
<polyline points="902.06,534.68 906.34,534.68 910.63,534.34 914.91,534.34 919.19,530.97 923.48,530.97 927.76,530.88 932.05,530.88 936.33,530.88 940.61,530.88 944.9,527.04 949.18,523.6 953.47,523.4 957.75,519.61 962.03,518.32 966.32,518.02 970.6,518.02 974.89,518.02 979.17,517.97 983.45,516.52 987.74,516.26 992.02,516.26 996.31,516.26 1000.59,514.01 1004.87,512.41 1009.16,509.35 1013.44,509.35 1017.73,508.23 1022.01,508.1 1026.29,507.86 1030.58,507.64 1034.86,506.83 1039.15,506.83 1043.43,506.83 1047.71,506.83 1052,506.83 1056.28,506.78 1060.57,506.78 1064.85,506.78 1069.13,506.78 1073.42,506.78 1077.7,506.78 1081.99,506.78 1086.27,505.94 1090.55,505.94 1094.84,505.94 1099.12,504.31 1103.41,504.27 1107.69,485.67 1111.97,485.67 1116.26,485.67 1120.54,485.48 1124.83,485.48 1129.11,485.25 1133.39,485.19 1137.68,485.02 1141.96,485.02 1146.25,485.02 1150.53,484.85 1154.81,484.85 1159.1,484.83 1163.38,484.83 1167.67,483.6 1171.95,482.87 1176.23,481.9 1180.52,481.9 1184.8,479.83 1189.09,479.39 1193.37,479.39 1197.65,470.91 1201.94,470.91 1206.22,470.91 1210.51,470.91 1214.79,469.44" fill="none" stroke="#ff0000" stroke-width="2.9" stroke-linejoin="round" stroke-linecap="round"/>
<polyline points="902.06,528.66 906.34,522.63 910.63,516.52 914.91,510.46 919.19,504.38 923.48,498.35 927.76,492.33 932.05,486.26 936.33,480.17 940.61,474.09 944.9,467.93 949.18,461.85 953.47,455.74 957.75,449.69 962.03,443.63 966.32,437.58 970.6,431.61 974.89,425.67 979.17,419.65 983.45,413.64 987.74,407.67 992.02,401.72 996.31,395.73 1000.59,389.72 1004.87,383.73 1009.16,377.72 1013.44,371.79 1017.73,365.79 1022.01,359.87 1026.29,353.89 1030.58,347.93 1034.86,341.92 1039.15,335.98 1043.43,330.04 1047.71,324.02 1052,318.02 1056.28,311.93 1060.57,305.89 1064.85,299.88 1069.13,293.89 1073.42,287.92 1077.7,281.91 1081.99,275.91 1086.27,269.9 1090.55,263.96 1094.84,257.99 1099.12,252 1103.41,246.05 1107.69,240.06 1111.97,234.2 1116.26,228.33 1120.54,222.43 1124.83,216.63 1129.11,210.71 1133.39,204.83 1137.68,198.89 1141.96,192.99 1146.25,187.1 1150.53,181.2 1154.81,175.32 1159.1,169.4 1163.38,163.56 1167.67,157.7 1171.95,151.93 1176.23,146.2 1180.52,140.45 1184.8,134.75 1189.09,129.01 1193.37,123.35 1197.65,117.7 1201.94,112.18 1206.22,106.67 1210.51,101.22 1214.79,95.8" fill="none" stroke="#000" stroke-width="2.9" stroke-linejoin="round" stroke-linecap="round"/>
<polyline points="902.06,534.53 906.34,534.45 910.63,534.27 914.91,534.08 919.19,533.48 923.48,533.4 927.76,533.19 932.05,533.03 936.33,532.88 940.61,532.82 944.9,532.17 949.18,531.85 953.47,531.65 957.75,531.17 962.03,530.72 966.32,530.4 970.6,530.24 974.89,530.18 979.17,529.77 983.45,528.69 987.74,528.58 992.02,528.43 996.31,528.38 1000.59,527.81 1004.87,527.54 1009.16,527.1 1013.44,527.06 1017.73,525.9 1022.01,525.69 1026.29,525.5 1030.58,525.36 1034.86,524.92 1039.15,524.85 1043.43,524.82 1047.71,524.75 1052,524.63 1056.28,524.22 1060.57,523.96 1064.85,523.67 1069.13,523.34 1073.42,523.27 1077.7,523.22 1081.99,523.17 1086.27,522.65 1090.55,522.46 1094.84,522.42 1099.12,521.32 1103.41,521.06 1107.69,516.45 1111.97,516.36 1116.26,516.06 1120.54,515.45 1124.83,515.33 1129.11,515.12 1133.39,514.94 1137.68,514.64 1141.96,514.47 1146.25,514.39 1150.53,514.05 1154.81,513.91 1159.1,513.51 1163.38,513.39 1167.67,512.55 1171.95,512.28 1176.23,512.07 1180.52,512.04 1184.8,511.67 1189.09,510.82 1193.37,510.63 1197.65,509.88 1201.94,509.55 1206.22,508.78 1210.51,508.52 1214.79,499.24" fill="none" stroke="#0000ff" stroke-width="2.9" stroke-linejoin="round" stroke-linecap="round"/>
<rect x="889.5" y="38.6" width="337.7" height="514.7" fill="none" stroke="#000" stroke-width="1.6"/>
<path d="M1227.2 534.7h-9.8M1227.2 424.94h-9.8M1227.2 315.18h-9.8M1227.2 205.42h-9.8M1227.2 95.66h-9.8M957.75 553.3v-9.8M1043.43 553.3v-9.8M1129.11 553.3v-9.8M1214.79 553.3v-9.8" fill="none" stroke="#000" stroke-width="1.5"/>
<text transform="translate(1241.7,543.9) scale(1,1.045)" font-size="24.6" fill="#000" stroke="#000" stroke-width="0.3">0</text>
<text transform="translate(1241.7,434.14) scale(1,1.045)" font-size="24.6" fill="#000" stroke="#000" stroke-width="0.3">20</text>
<text transform="translate(1241.7,324.38) scale(1,1.045)" font-size="24.6" fill="#000" stroke="#000" stroke-width="0.3">40</text>
<text transform="translate(1241.7,214.62) scale(1,1.045)" font-size="24.6" fill="#000" stroke="#000" stroke-width="0.3">60</text>
<text transform="translate(1241.7,104.86) scale(1,1.045)" font-size="24.6" fill="#000" stroke="#000" stroke-width="0.3">80</text>
<text transform="translate(957.25,591.3) scale(1,1.045)" font-size="24.6" fill="#000" text-anchor="middle" stroke="#000" stroke-width="0.3">2040</text>
<text transform="translate(1042.93,591.3) scale(1,1.045)" font-size="24.6" fill="#000" text-anchor="middle" stroke="#000" stroke-width="0.3">2060</text>
<text transform="translate(1128.61,591.3) scale(1,1.045)" font-size="24.6" fill="#000" text-anchor="middle" stroke="#000" stroke-width="0.3">2080</text>
<text transform="translate(1214.29,591.3) scale(1,1.045)" font-size="24.6" fill="#000" text-anchor="middle" stroke="#000" stroke-width="0.3">2100</text>
<text transform="translate(1295.8,294.9) rotate(-90) scale(1,1.045)" font-size="25" fill="#000" text-anchor="middle" stroke="#000" stroke-width="0.3">Cumulative mortality (Tg C)</text>
</g>
<text transform="translate(4.8,24.6) scale(1,1.045)" font-size="25" fill="#000" font-weight="bold">A</text>
<text transform="translate(3.6,611.7) scale(1,1.045)" font-size="25" fill="#000" font-weight="bold">C</text>
<text transform="translate(3,1209) scale(1,1.045)" font-size="25" fill="#000" font-weight="bold">E</text>
<text transform="translate(852.2,24.7) scale(1,1.045)" font-size="25" fill="#000" font-weight="bold">B</text>
<text transform="translate(852.2,611.9) scale(1,1.045)" font-size="25" fill="#000" font-weight="bold">D</text>
<text transform="translate(852.2,1209) scale(1,1.045)" font-size="25" fill="#000" font-weight="bold">F</text>
</svg>
</body></html>
